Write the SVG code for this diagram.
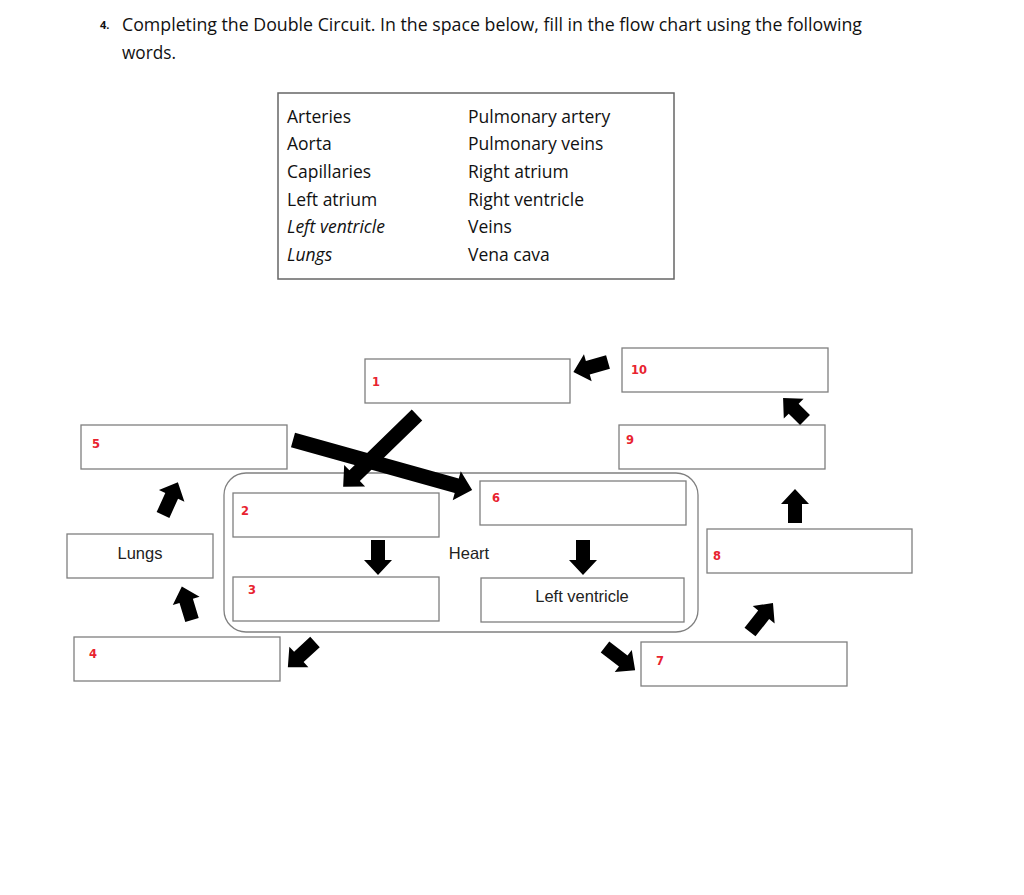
<svg xmlns="http://www.w3.org/2000/svg" width="1024" height="895" viewBox="0 0 1024 895">
<style>
.bg{fill:#ffffff}
.box{fill:#ffffff;stroke:#7f7f7f;stroke-width:1.3}
.heart{fill:none;stroke:#808080;stroke-width:1.3}
.num{font-family:"DejaVu Sans",Verdana,sans-serif;font-size:11.5px;font-weight:bold;fill:#e8232f}
.lbl{font-family:"Liberation Sans",Arial,sans-serif;font-size:16.5px;fill:#222222}
.cal{font-family:"Open Sans","Noto Sans",sans-serif;font-size:17.5px;fill:#111111}
.ital{font-style:italic}
.arr{fill:#000000}
</style>
<rect class="bg" x="0" y="0" width="1024" height="895"/>
<g id="title">
<text x="100" y="29" font-family="'Open Sans',sans-serif" font-size="11" font-weight="bold" fill="#111">4.</text>
<text class="cal" x="122" y="31" textLength="740" lengthAdjust="spacingAndGlyphs">Completing the Double Circuit. In the space below, fill in the flow chart using the following</text>
<text class="cal" x="122" y="59" textLength="54" lengthAdjust="spacingAndGlyphs">words.</text>
</g>
<g id="wordbank">
<rect x="278" y="93" width="396" height="186" fill="#fff" stroke="#666" stroke-width="1.5"/>
<text class="cal" x="287" y="123">Arteries</text>
<text class="cal" x="287" y="150">Aorta</text>
<text class="cal" x="287" y="178">Capillaries</text>
<text class="cal" x="287" y="206">Left atrium</text>
<text class="cal ital" x="287" y="233">Left ventricle</text>
<text class="cal ital" x="287" y="261">Lungs</text>
<text class="cal" x="468" y="123">Pulmonary artery</text>
<text class="cal" x="468" y="150">Pulmonary veins</text>
<text class="cal" x="468" y="178">Right atrium</text>
<text class="cal" x="468" y="206">Right ventricle</text>
<text class="cal" x="468" y="233">Veins</text>
<text class="cal" x="468" y="261">Vena cava</text>
</g>
<g id="heart">
<rect class="heart" x="224" y="473" width="474" height="159" rx="22" ry="22"/>
<text class="lbl" x="469" y="559" text-anchor="middle">Heart</text>
</g>
<g id="node1"><rect class="box" x="365" y="359" width="205" height="44"/><text class="num" x="372" y="386">1</text></g>
<g id="node10"><rect class="box" x="622" y="348" width="206" height="44"/><text class="num" x="631" y="374">10</text></g>
<g id="node5"><rect class="box" x="81" y="425" width="206" height="44"/><text class="num" x="92" y="448">5</text></g>
<g id="node9"><rect class="box" x="619" y="425" width="206" height="44"/><text class="num" x="626" y="444">9</text></g>
<g id="node2"><rect class="box" x="233" y="493" width="206" height="44"/><text class="num" x="241" y="515">2</text></g>
<g id="node6"><rect class="box" x="480" y="481" width="206" height="44"/><text class="num" x="492" y="502">6</text></g>
<g id="lungs"><rect class="box" x="67" y="534" width="146" height="44"/><text class="lbl" x="140" y="559" text-anchor="middle">Lungs</text></g>
<g id="node3"><rect class="box" x="233" y="577" width="206" height="44"/><text class="num" x="248" y="594" font-weight="normal">3</text></g>
<g id="leftventricle"><rect class="box" x="481" y="578" width="203" height="44"/><text class="lbl" x="582" y="602" text-anchor="middle">Left ventricle</text></g>
<g id="node8"><rect class="box" x="707" y="529" width="205" height="44"/><text class="num" x="713" y="560">8</text></g>
<g id="node4"><rect class="box" x="74" y="637" width="206" height="44"/><text class="num" x="89" y="658" font-weight="normal">4</text></g>
<g id="node7"><rect class="box" x="641" y="642" width="206" height="44"/><text class="num" x="656" y="665">7</text></g>
<g id="connectors">
<path class="arr" transform="translate(378,540) rotate(90)" d="M0,-7 H20 V-14 L35,0 L20,14 V7 H0 Z"/>
<path class="arr" transform="translate(583,540) rotate(90)" d="M0,-7 H20 V-14 L35,0 L20,14 V7 H0 Z"/>
<path class="arr" transform="translate(163,515) rotate(-65.6)" d="M0,-7 H21 V-14 L36,0 L21,14 V7 H0 Z"/>
<path class="arr" transform="translate(192,620) rotate(-106.9)" d="M0,-7 H20 V-14 L35,0 L20,14 V7 H0 Z"/>
<path class="arr" transform="translate(315,642) rotate(137.2)" d="M0,-7 H22 V-14 L37,0 L22,14 V7 H0 Z"/>
<path class="arr" transform="translate(605,647) rotate(37.5)" d="M0,-7 H23 V-14 L38,0 L23,14 V7 H0 Z"/>
<path class="arr" transform="translate(750,632) rotate(-51.6)" d="M0,-7 H22 V-14 L37,0 L22,14 V7 H0 Z"/>
<path class="arr" transform="translate(795,523) rotate(-90)" d="M0,-7 H19 V-14 L34,0 L19,14 V7 H0 Z"/>
<path class="arr" transform="translate(805,420) rotate(-135)" d="M0,-7 H16 V-14 L31,0 L16,14 V7 H0 Z"/>
<path class="arr" transform="translate(608,362) rotate(164)" d="M0,-7 H21 V-14 L36,0 L21,14 V7 H0 Z"/>
<path class="arr" transform="translate(293,440) rotate(15.6)" d="M0,-7.5 H170 V-15 L186,0 L170,15 V7.5 H0 Z"/>
<path class="arr" transform="translate(417,415) rotate(135.8)" d="M0,-7.5 H87 V-15 L103,0 L87,15 V7.5 H0 Z"/>
</g>
</svg>
